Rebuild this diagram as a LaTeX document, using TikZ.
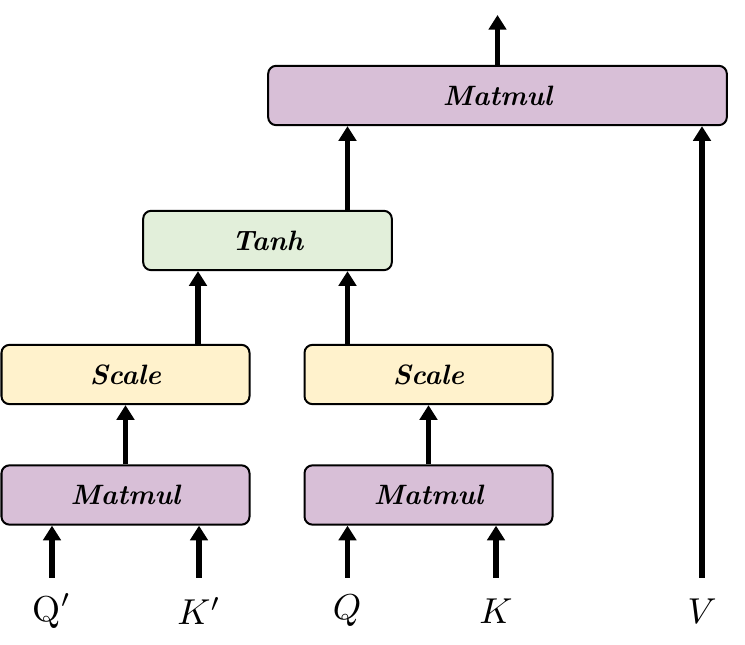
\documentclass[tikz,border=0pt]{standalone}
\usepackage{fontspec}
\usepackage{amsmath}
\usepackage{graphicx}
\usetikzlibrary{arrows.meta}
\definecolor{mmpurple}{rgb}{0.847,0.749,0.843}
\definecolor{scyellow}{rgb}{1,0.949,0.8}
\definecolor{thgreen}{rgb}{0.886,0.937,0.855}
\tikzset{
  opbox/.style={draw,line width=1.5pt,rounded corners=6pt,minimum height=44.5pt,inner sep=0pt,font=\fontsize{21}{24}\selectfont\bfseries\itshape},
  inlabel/.style={inner sep=0pt}
}
\newcommand{\opname}[1]{{\addfontfeature{LetterSpace=4}#1}}
\newcommand{\inname}[1]{\scalebox{2.7}{$#1$}}

\begin{document}
\begin{tikzpicture}[line cap=butt,line join=miter,>={Triangle[length=11pt,width=13pt]},x=0.75pt,y=0.75pt]
\useasboundingbox (0,0) rectangle (745,645);
% boxes
\node[opbox,fill=mmpurple,minimum width=344pt] (mmtop) at (497.5,549.5) {\opname{Matmul}};
\node[opbox,fill=thgreen,minimum width=186.5pt] (tanh) at (267.5,404.5) {\opname{Tanh}};
\node[opbox,fill=scyellow,minimum width=186pt] (scaleL) at (125.5,270.5) {\opname{Scale}};
\node[opbox,fill=scyellow,minimum width=186pt] (scaleR) at (428.5,270.5) {\opname{Scale}};
\node[opbox,fill=mmpurple,minimum width=186pt] (mmL) at (125.5,150) {\opname{Matmul}};
\node[opbox,fill=mmpurple,minimum width=186pt] (mmR) at (428.5,150) {\opname{Matmul}};
% inputs
\node[inlabel] (qp) at (52,34) {\inname{\mathrm{Q}'}};
\node[inlabel] (kp) at (199,34) {\inname{K'}};
\node[inlabel] (q) at (347,34) {\inname{Q}};
\node[inlabel] (k) at (496,34) {\inname{K}};
\node[inlabel] (v) at (702,34) {\inname{V}};
\coordinate (qpin) at (52,67);
\coordinate (kpin) at (199,67);
\coordinate (qin) at (347.5,67);
\coordinate (kin) at (496,67);
\coordinate (vin) at (702,67);
\coordinate (sl) at (198,0);
\coordinate (out) at (497.5,630);
% arrows
\begin{scope}[line width=4.2pt]
\draw [->] (qpin) -- (qpin |- mmL.south);
\draw [->] (kpin) -- (kpin |- mmL.south);
\draw [->] (qin) -- (qin |- mmR.south);
\draw [->] (kin) -- (kin |- mmR.south);
\draw [->] (vin) -- (vin |- mmtop.south);
\draw [->] (mmL) -- (scaleL);
\draw [->] (mmR) -- (scaleR);
\draw [->] (sl |- scaleL.north) -- (sl |- tanh.south);
\draw [->] (qin |- scaleR.north) -- (qin |- tanh.south);
\draw [->] (qin |- tanh.north) -- (qin |- mmtop.south);
\draw [->] (mmtop) -- (out);
\end{scope}
\end{tikzpicture}
\end{document}
